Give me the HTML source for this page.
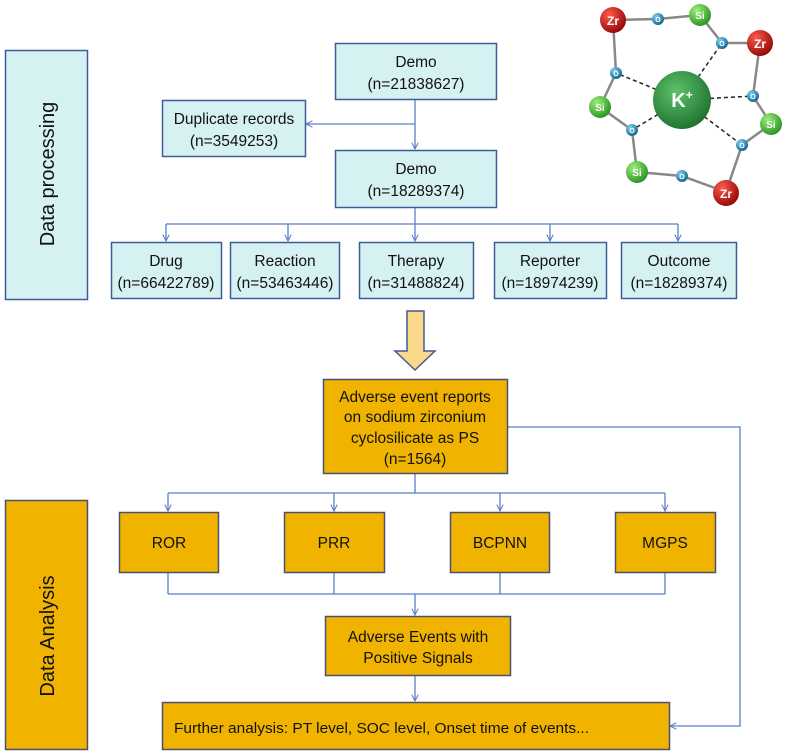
<!DOCTYPE html>
<html><head><meta charset="utf-8"><style>
html,body{margin:0;padding:0;background:#fff;}
svg{display:block;}
text{font-family:"Liberation Sans",sans-serif;fill:#111;}
</style></head><body>
<svg width="791" height="754" viewBox="0 0 791 754" xmlns="http://www.w3.org/2000/svg">
<defs>
<marker id="a" viewBox="0 0 10 10" refX="9" refY="5" markerWidth="8" markerHeight="8" orient="auto-start-reverse" markerUnits="userSpaceOnUse">
<path d="M1,1 L9,5 L1,9" fill="none" stroke="#5b7fc6" stroke-width="1.3"/></marker>
<radialGradient id="zr" cx="0.35" cy="0.3" r="0.8"><stop offset="0" stop-color="#ff5a4a"/><stop offset="1" stop-color="#8a0000"/></radialGradient>
<radialGradient id="si" cx="0.35" cy="0.3" r="0.8"><stop offset="0" stop-color="#9cf07a"/><stop offset="1" stop-color="#1f8a1a"/></radialGradient>
<radialGradient id="o" cx="0.35" cy="0.3" r="0.8"><stop offset="0" stop-color="#7fd0f0"/><stop offset="1" stop-color="#0a5a8a"/></radialGradient>
<radialGradient id="k" cx="0.4" cy="0.35" r="0.75"><stop offset="0" stop-color="#5cc26a"/><stop offset="1" stop-color="#1a6a2a"/></radialGradient>
</defs>

<rect x="5.5" y="50.5" width="82" height="249" fill="#d5f1f1" stroke="#3e5c9a" stroke-width="1.5"/>
<text transform="translate(54,174) rotate(-90)" text-anchor="middle" font-size="20">Data processing</text>
<rect x="5.5" y="500.5" width="82" height="249" fill="#f0b400" stroke="#4a5070" stroke-width="1.5"/>
<text transform="translate(54,636) rotate(-90)" text-anchor="middle" font-size="20">Data Analysis</text>

<g stroke="#5b7fc6" stroke-width="1.3" fill="none">
<line x1="415" y1="99" x2="415" y2="149" marker-end="url(#a)"/>
<line x1="415" y1="124" x2="306" y2="124" marker-end="url(#a)"/>
<line x1="415" y1="207" x2="415" y2="224"/>
<line x1="166" y1="224" x2="678" y2="224"/>
<line x1="166" y1="224" x2="166" y2="241" marker-end="url(#a)"/>
<line x1="288" y1="224" x2="288" y2="241" marker-end="url(#a)"/>
<line x1="415" y1="224" x2="415" y2="241" marker-end="url(#a)"/>
<line x1="550" y1="224" x2="550" y2="241" marker-end="url(#a)"/>
<line x1="678" y1="224" x2="678" y2="241" marker-end="url(#a)"/>
<line x1="415" y1="473" x2="415" y2="493"/>
<line x1="168" y1="493" x2="665" y2="493"/>
<line x1="168" y1="493" x2="168" y2="511" marker-end="url(#a)"/>
<line x1="334" y1="493" x2="334" y2="511" marker-end="url(#a)"/>
<line x1="500" y1="493" x2="500" y2="511" marker-end="url(#a)"/>
<line x1="665" y1="493" x2="665" y2="511" marker-end="url(#a)"/>
<line x1="168" y1="572" x2="168" y2="594"/>
<line x1="334" y1="572" x2="334" y2="594"/>
<line x1="500" y1="572" x2="500" y2="594"/>
<line x1="665" y1="572" x2="665" y2="594"/>
<line x1="168" y1="594" x2="665" y2="594"/>
<line x1="415" y1="594" x2="415" y2="615" marker-end="url(#a)"/>
<line x1="415" y1="675" x2="415" y2="701" marker-end="url(#a)"/>
<polyline points="507,427 740,427 740,726 670,726" marker-end="url(#a)"/>
</g>

<g fill="#d5f1f1" stroke="#3e5c9a" stroke-width="1.5">
<rect x="335.5" y="43.5" width="161" height="56"/>
<rect x="162.5" y="100.5" width="143" height="56"/>
<rect x="335.5" y="150.5" width="161" height="57"/>
<rect x="111.5" y="242.5" width="110" height="56"/>
<rect x="230.5" y="242.5" width="109" height="56"/>
<rect x="359.5" y="242.5" width="114" height="56"/>
<rect x="494.5" y="242.5" width="112" height="56"/>
<rect x="621.5" y="242.5" width="115" height="56"/>
</g>
<g font-size="15.5" text-anchor="middle">
<text x="416" y="67">Demo</text><text x="416" y="89">(n=21838627)</text>
<text x="234" y="124">Duplicate records</text><text x="234" y="146">(n=3549253)</text>
<text x="416" y="174">Demo</text><text x="416" y="196">(n=18289374)</text>
<text x="166" y="266">Drug</text><text x="166" y="288">(n=66422789)</text>
<text x="285" y="266">Reaction</text><text x="285" y="288">(n=53463446)</text>
<text x="416" y="266">Therapy</text><text x="416" y="288">(n=31488824)</text>
<text x="550" y="266">Reporter</text><text x="550" y="288">(n=18974239)</text>
<text x="679" y="266">Outcome</text><text x="679" y="288">(n=18289374)</text>
</g>

<path d="M407,311 H424 V351 H435 L415,370 L395,351 H407 Z" fill="#fbd98a" stroke="#3e5c9a" stroke-width="1.5"/>

<g fill="#f0b400" stroke="#4a5070" stroke-width="1.5">
<rect x="323.5" y="379.5" width="184" height="94"/>
<rect x="119.5" y="512.5" width="99" height="60"/>
<rect x="284.5" y="512.5" width="100" height="60"/>
<rect x="450.5" y="512.5" width="99" height="60"/>
<rect x="615.5" y="512.5" width="100" height="60"/>
<rect x="325.5" y="616.5" width="185" height="59"/>
<rect x="162.5" y="702.5" width="507" height="47"/>
</g>
<g font-size="15.5" text-anchor="middle">
<text x="415" y="402">Adverse event reports</text>
<text x="415" y="422">on sodium zirconium</text>
<text x="415" y="443">cyclosilicate as PS</text>
<text x="415" y="464">(n=1564)</text>
<text x="169" y="548">ROR</text>
<text x="334" y="548">PRR</text>
<text x="500" y="548">BCPNN</text>
<text x="665" y="548">MGPS</text>
<text x="418" y="642">Adverse Events with</text>
<text x="418" y="663">Positive Signals</text>
</g>
<text x="174" y="733" font-size="15" textLength="415" lengthAdjust="spacingAndGlyphs">Further analysis: PT level, SOC  level, Onset time of events...</text>

<g stroke="#888" stroke-width="2.5" fill="none">
<polyline points="613,20 658,19 700,15 722,43 760,43 753,96 771,124 742,145 726,192 682,176 637,172 632,130 600,107 616,73 613,20"/>
</g>
<g stroke="#222" stroke-width="1.5" stroke-dasharray="4,3">
<line x1="682" y1="100" x2="722" y2="43"/><line x1="682" y1="100" x2="616" y2="73"/>
<line x1="682" y1="100" x2="753" y2="96"/><line x1="682" y1="100" x2="742" y2="145"/>
<line x1="682" y1="100" x2="632" y2="130"/>
</g>
<g>
<circle cx="682" cy="100" r="29" fill="url(#k)"/>
<circle cx="613" cy="20" r="13" fill="url(#zr)"/><circle cx="760" cy="43" r="13" fill="url(#zr)"/><circle cx="726" cy="193" r="13" fill="url(#zr)"/>
<circle cx="700" cy="15" r="11" fill="url(#si)"/><circle cx="600" cy="107" r="11" fill="url(#si)"/><circle cx="771" cy="124" r="11" fill="url(#si)"/><circle cx="637" cy="172" r="11" fill="url(#si)"/>
<circle cx="658" cy="19" r="6" fill="url(#o)"/><circle cx="722" cy="43" r="6" fill="url(#o)"/><circle cx="616" cy="73" r="6" fill="url(#o)"/><circle cx="753" cy="96" r="6" fill="url(#o)"/><circle cx="632" cy="130" r="6" fill="url(#o)"/><circle cx="742" cy="145" r="6" fill="url(#o)"/><circle cx="682" cy="176" r="6" fill="url(#o)"/>
</g>
<g font-weight="bold" text-anchor="middle">
<text x="682" y="107" font-size="20" style="fill:#fff">K<tspan font-size="12" dy="-8" style="fill:#fff">+</tspan></text>
<text x="613" y="25" font-size="12" style="fill:#fff">Zr</text><text x="760" y="48" font-size="12" style="fill:#fff">Zr</text><text x="726" y="198" font-size="12" style="fill:#fff">Zr</text>
<text x="700" y="19" font-size="10" style="fill:#fff">Si</text><text x="600" y="111" font-size="10" style="fill:#fff">Si</text><text x="771" y="128" font-size="10" style="fill:#fff">Si</text><text x="637" y="176" font-size="10" style="fill:#fff">Si</text>
<g font-size="7"><text x="658" y="22" style="fill:#fff">O</text><text x="722" y="46" style="fill:#fff">O</text><text x="616" y="76" style="fill:#fff">O</text><text x="753" y="99" style="fill:#fff">O</text><text x="632" y="133" style="fill:#fff">O</text><text x="742" y="148" style="fill:#fff">O</text><text x="682" y="179" style="fill:#fff">O</text></g>
</g>
</svg>
</body></html>
